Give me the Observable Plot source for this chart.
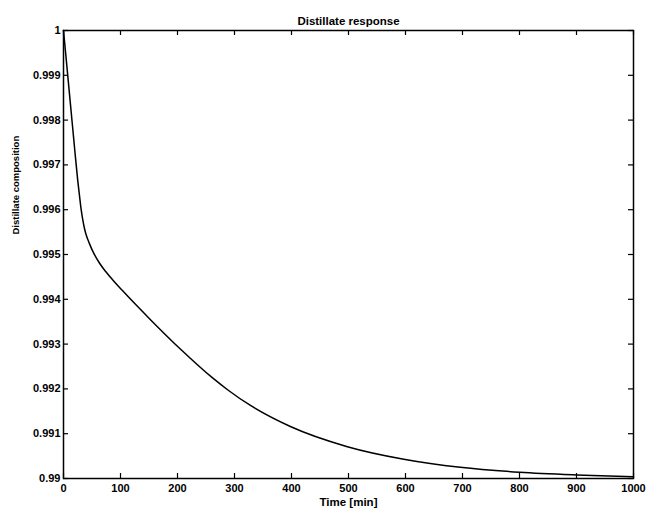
<!DOCTYPE html>
<html><head><meta charset="utf-8">
<script src="https://cdn.jsdelivr.net/npm/d3@7"></script>
<script src="https://cdn.jsdelivr.net/npm/@observablehq/plot@0.6"></script>
<style>body{margin:0;background:#fff}</style>
</head><body><div id="chart"></div>
<script>
const title = "Distillate response";
const xLabel = "Time [min]";
const yLabel = "Distillate composition";
const time = [0, 4, 8, 12, 16, 20, 25, 28, 31, 34, 37, 40, 45, 53, 63, 74, 88, 103, 153, 205, 261, 289, 328, 398, 498, 597, 696, 800, 900, 1000];
const composition = [1, 0.99946, 0.99892, 0.99838, 0.99784, 0.99730, 0.99665, 0.99632, 0.99600, 0.99576, 0.99557, 0.99543, 0.99526, 0.99503, 0.99481, 0.99462, 0.99441, 0.99420, 0.99354, 0.99289, 0.99225, 0.99197, 0.99163, 0.99116, 0.99071, 0.99043, 0.99025, 0.99014, 0.99008, 0.99004];
const xTicks = [0, 100, 200, 300, 400, 500, 600, 700, 800, 900, 1000];
const yTicks = [0.99, 0.991, 0.992, 0.993, 0.994, 0.995, 0.996, 0.997, 0.998, 0.999, 1];

const data = time.map((t, i) => ({t, v: composition[i]}));
const fmtY = d3.format(".3~f");
const fmtX = d3.format("d");

const chart = Plot.plot({
  width: 658,
  height: 514,
  marginLeft: 63,
  marginRight: 25,
  marginTop: 30,
  marginBottom: 36,
  style: {fontFamily: "'Liberation Sans', Arial, sans-serif", fontSize: "11px", fontWeight: "bold", color: "#000", background: "#fff"},
  x: {domain: [0, 1000], axis: null},
  y: {domain: [0.99, 1], axis: null},
  marks: [
    Plot.ruleX(xTicks, {x: d => d, insetTop: 443, stroke: "#000", strokeWidth: 1.2}),
    Plot.ruleX(xTicks, {x: d => d, insetBottom: 443, stroke: "#000", strokeWidth: 1.2}),
    Plot.ruleY(yTicks, {y: d => d, insetRight: 565, stroke: "#000", strokeWidth: 1.2}),
    Plot.ruleY(yTicks, {y: d => d, insetLeft: 565, stroke: "#000", strokeWidth: 1.2}),
    Plot.axisX({ticks: xTicks, tickSize: 0, tickPadding: 6, label: null, anchor: "bottom", tickFormat: fmtX, fontSize: 11, fontWeight: "bold"}),
    Plot.axisY({ticks: yTicks, tickSize: 0, tickPadding: 3, label: null, anchor: "left", tickFormat: fmtY, fontSize: 11, fontWeight: "bold"}),
    Plot.line(data, {x: "t", y: "v", stroke: "#000", strokeWidth: 1.5, curve: "monotone-x"}),
    Plot.frame({stroke: "#000", strokeWidth: 1.5}),
    Plot.text([title], {text: d => d, frameAnchor: "top", dy: -14, fontSize: 11.5, fontWeight: "bold"}),
    Plot.text([xLabel], {text: d => d, frameAnchor: "bottom", dy: 27, fontSize: 11.5, fontWeight: "bold"}),
    Plot.text([yLabel], {text: d => d, frameAnchor: "left", dx: -48, dy: -20, rotate: -90, fontSize: 9.5, fontWeight: "bold"})
  ]
});
document.getElementById("chart").appendChild(chart);
</script>
</body></html>
